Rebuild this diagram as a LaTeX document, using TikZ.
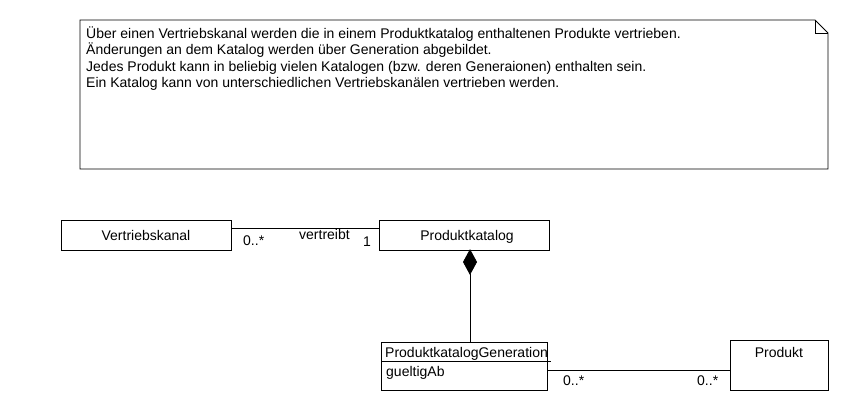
\documentclass[tikz,border=0pt]{standalone}
\usepackage{fontspec}
\setmainfont{Liberation Sans}
\usetikzlibrary{shapes.geometric}
\begin{document}
\begin{tikzpicture}[x=1pt,y=-1pt,
  line/.style={draw=black,line width=0.9pt},
  lbl/.style={font=\fontsize{14}{16.5}\selectfont,inner sep=0pt,anchor=base west},
  cls/.style={draw=black,line width=0.9pt,fill=white,inner sep=0pt}]
\useasboundingbox (0,0) rectangle (850,410);
% note
\draw[line] (80,20) -- (815,20) -- (828,33) -- (828,169) -- (80,169) -- cycle;
\draw[line] (815,20) -- (815,33) -- (828,33);
\node[lbl] (n1) at (86,38) {Über einen Vertriebskanal werden die in einem Produktkatalog enthaltenen Produkte vertrieben.};
\node[lbl] (n2) at (86,54.5) {Änderungen an dem Katalog werden über Generation abgebildet.};
\node[lbl] (n3) at (86,71) {Jedes Produkt kann in beliebig vielen Katalogen (bzw. deren Generaionen) enthalten sein.};
\node[lbl] (n4) at (86,87.5) {Ein Katalog kann von unterschiedlichen Vertriebskanälen vertrieben werden.};
% classes
\node[cls,minimum width=170,minimum height=30,anchor=north west] (vk) at (61,220) {};
\node[lbl,anchor=base] (vkt) at (146,240) {Vertriebskanal};
\node[cls,minimum width=170,minimum height=30,anchor=north west] (pk) at (379,220) {};
\node[lbl,anchor=base] (pkt) at (467,240) {Produktkatalog};
\node[cls,minimum width=166,minimum height=48,anchor=north west] (pg) at (381,342) {};
\draw[line] (381,361) -- (551,361);
\node[lbl] (pgt) at (385,357) {ProduktkatalogGeneration};
\node[lbl] (pga) at (386,376) {gueltigAb};
\node[cls,minimum width=98,minimum height=50,anchor=north west] (pr) at (730,340) {};
\node[lbl,anchor=base] (prt) at (779,357) {Produkt};
% association vertreibt
\coordinate (a1) at (231,228);
\coordinate (a2) at (379,228);
\draw[line] (a1) -- (a2);
\node[lbl] (m1) at (243,245) {0..*};
\node[lbl] (an) at (299,239) {vertreibt};
\node[lbl] (m2) at (363,246) {1};
% composition
\coordinate (d0) at (470,250);
\coordinate (dL) at (463.5,262);
\coordinate (d1) at (470,274);
\coordinate (dR) at (476.5,262);
\coordinate (pgtop) at (470,342);
\draw[line,fill=black] (d0) -- (dL) -- (d1) -- (dR) -- cycle;
\draw[line] (d1) -- (pgtop);
% association Produkt
\coordinate (b1) at (547,370);
\coordinate (b2) at (730,370);
\draw[line] (b1) -- (b2);
\node[lbl] (m3) at (563,385) {0..*};
\node[lbl] (m4) at (697,385) {0..*};
\end{tikzpicture}
\end{document}
